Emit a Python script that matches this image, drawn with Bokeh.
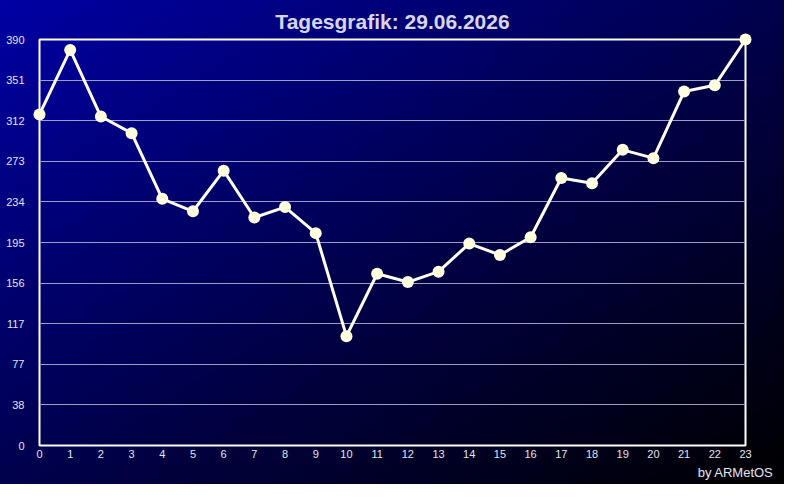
from bokeh.plotting import figure
from bokeh.models import Range1d, FixedTicker, Title, ColumnDataSource
from bokeh.embed import file_html
from bokeh.resources import INLINE

# ---- data ----
hours = list(range(24))
values = [318, 380, 316, 300, 237, 225, 264, 219, 229, 204, 105, 165,
          157, 167, 194, 183, 200, 257, 252, 284, 276, 340, 346, 390]
y_tick_values = [0, 39, 78, 117, 156, 195, 234, 273, 312, 351, 390]
y_tick_labels = ["0", "38", "77", "117", "156", "195", "234", "273", "312", "351", "390"]
x_tick_values = list(range(24))
title_text = "Tagesgrafik: 29.06.2026"
credit_text = "by ARMetOS"

FONT = "Liberation Sans"
LABEL_COLOR = "#E4E4F0"

p = figure(width=784, height=484, output_backend="svg", toolbar_location=None,
           x_range=Range1d(0, 23), y_range=Range1d(0, 390),
           min_border_left=39, min_border_right=39, min_border_top=39, min_border_bottom=39,
           styles={"background": "linear-gradient(to bottom right, #0000A4 0%, #00003C 60%, #000000 100%)"})

p.background_fill_color = None
p.border_fill_color = None
p.outline_line_color = "white"
p.outline_line_width = 2

p.title.text = title_text
p.title.align = "center"
p.title.text_font = FONT
p.title.text_font_size = "21px"
p.title.text_font_style = "bold"
p.title.text_color = "#D6D6E8"
p.title.standoff = 14

credit = Title(text=credit_text, align="right", text_font=FONT, text_font_size="13px",
               text_font_style="normal", text_color=LABEL_COLOR, offset=-28, standoff=4)
p.add_layout(credit, "below")

# axes
p.yaxis.ticker = FixedTicker(ticks=y_tick_values)
p.yaxis.major_label_overrides = {v: l for v, l in zip(y_tick_values, y_tick_labels)}
p.xaxis.ticker = FixedTicker(ticks=x_tick_values)
for ax in (p.xaxis, p.yaxis):
    ax.axis_line_color = None
    ax.major_tick_line_color = None
    ax.minor_tick_line_color = None
    ax.major_tick_out = 0
    ax.major_tick_in = 0
    ax.minor_tick_out = 0
    ax.minor_tick_in = 0
    ax.major_label_text_font = FONT
    ax.major_label_text_font_size = "11px"
    ax.major_label_text_color = LABEL_COLOR
p.yaxis.major_label_standoff = 15
p.xaxis.major_label_standoff = 4

p.xgrid.grid_line_color = None
p.ygrid.grid_line_color = "#9C9CC4"
p.ygrid.grid_line_width = 1

src = ColumnDataSource(dict(x=hours, y=values))
r1 = p.line("x", "y", source=src, line_color="#FFFFF4", line_width=3)
r2 = p.scatter("x", "y", source=src, size=12, fill_color="#FFFFE0", line_color=None)
r1.level = "overlay"
r2.level = "overlay"

open("out.html", "w").write(file_html(p, INLINE))
